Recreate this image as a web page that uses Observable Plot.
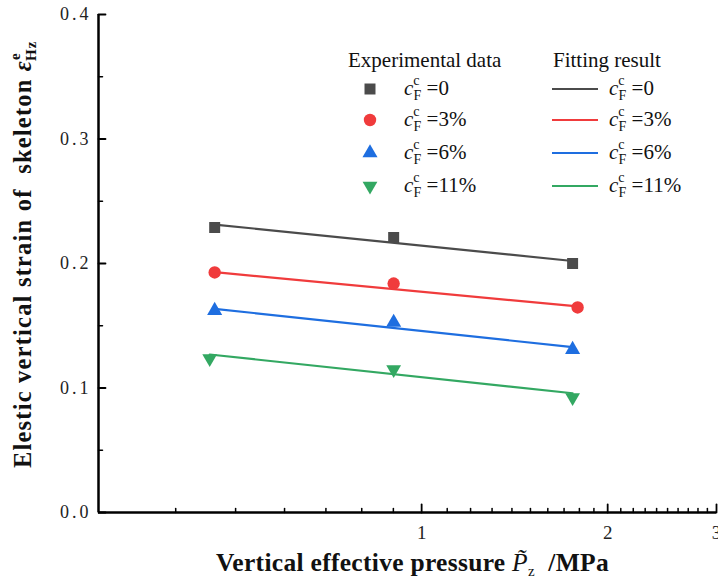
<!DOCTYPE html>
<html><head><meta charset="utf-8">
<script src="https://cdn.jsdelivr.net/npm/d3@7"></script>
<script src="https://cdn.jsdelivr.net/npm/@observablehq/plot@0.6"></script>
<style>body{margin:0;background:#fff} #chart{width:718px;height:578px}</style>
</head><body><div id="chart"></div>
<script>
// ---- data ----
const seriesLabels = ["=0", "=3%", "=6%", "=11%"];
const colors = ["#4b4b4b", "#f03b3c", "#1e6ee0", "#33a862"];
const expX0 = [0.4625, 0.901, 1.755], expY0 = [0.2289, 0.2209, 0.2000];
const expX1 = [0.4625, 0.901, 1.788], expY1 = [0.1928, 0.1839, 0.1647];
const expX2 = [0.4625, 0.901, 1.755], expY2 = [0.1622, 0.1526, 0.1309];
const expX3 = [0.454, 0.901, 1.755],  expY3 = [0.1237, 0.1149, 0.0924];
const fitX0 = [0.4625, 1.755], fitY0 = [0.2313, 0.2020];
const fitX1 = [0.4625, 1.788], fitY1 = [0.1930, 0.1655];
const fitX2 = [0.4625, 1.755], fitY2 = [0.1636, 0.1328];
const fitX3 = [0.454, 1.755],  fitY3 = [0.1269, 0.0958];
const yTicks = [0, 0.1, 0.2, 0.3, 0.4];
const yMinorTicks = [0.05, 0.15, 0.25, 0.35];
const xTicks = [1, 2, 3];
const xMinorTicks = [0.4, 0.5, 0.6, 0.7, 0.8, 0.9, 1.1, 1.2, 1.3, 1.4, 1.5, 1.6, 1.7, 1.8, 1.9,
                     2.1, 2.2, 2.3, 2.4, 2.5, 2.6, 2.7, 2.8, 2.9];

const expX = [expX0, expX1, expX2, expX3], expY = [expY0, expY1, expY2, expY3];
const fitX = [fitX0, fitX1, fitX2, fitX3], fitY = [fitY0, fitY1, fitY2, fitY3];
const pts = i => expX[i].map((x, j) => ({x, y: expY[i][j]}));
const fit = i => fitX[i].map((x, j) => ({x, y: fitY[i][j]}));

const downTriangle = {draw(ctx, size) {
  const y = -Math.sqrt(size / (Math.sqrt(3) * 3));
  ctx.moveTo(0, -y * 2);
  ctx.lineTo(-Math.sqrt(3) * y, y);
  ctx.lineTo(Math.sqrt(3) * y, y);
  ctx.closePath();
}};
const symbols = ["square", "circle", "triangle", downTriangle];
const radii = [6.2, 6.2, 5.6, 5.5];
const tickShape = {draw(ctx, l) { ctx.moveTo(0, 0); ctx.lineTo(0, -l); }};
const serif = "Liberation Serif, Times New Roman, serif";

const marks = [
  Plot.ruleY([0], {stroke: "black", strokeWidth: 2.5}),
  Plot.ruleX([0.3], {stroke: "black", strokeWidth: 2.5}),
  Plot.vector(yTicks, {y: d => d, frameAnchor: "left", length: 7, rotate: 90, anchor: "start", shape: tickShape, stroke: "black", strokeWidth: 1.8}),
  Plot.vector(yMinorTicks, {y: d => d, frameAnchor: "left", length: 4, rotate: 90, anchor: "start", shape: tickShape, stroke: "black", strokeWidth: 1.5}),
  Plot.vector(xTicks, {x: d => d, frameAnchor: "bottom", length: 8, rotate: 0, anchor: "start", shape: tickShape, stroke: "black", strokeWidth: 1.8}),
  Plot.vector(xMinorTicks, {x: d => d, frameAnchor: "bottom", length: 4, rotate: 0, anchor: "start", shape: tickShape, stroke: "black", strokeWidth: 1.5}),
  Plot.axisY(yTicks, {tickSize: 0, tickPadding: 7, tickFormat: d3.format(".1f"), fontSize: 18, fontFamily: serif, label: null, fill: "#222"}),
  Plot.axisX(xTicks, {tickSize: 0, tickPadding: 13, tickFormat: d => String(d), fontSize: 19, fontFamily: serif, label: null, fill: "#222"})
];
for (let i = 0; i < 4; i++) {
  marks.push(Plot.line(fit(i), {x: "x", y: "y", stroke: colors[i], strokeWidth: 2.2}));
}
for (let i = 0; i < 4; i++) {
  marks.push(Plot.dot(pts(i), {x: "x", y: "y", symbol: symbols[i], r: radii[i], fill: colors[i], stroke: "none"}));
}

const svg = Plot.plot({
  width: 718, height: 578,
  marginLeft: 98, marginRight: 2, marginTop: 14, marginBottom: 66,
  x: {type: "log", domain: [0.3, 3], label: null},
  y: {domain: [0, 0.4], label: null},
  style: {background: "white", overflow: "visible"},
  marks
});
document.getElementById("chart").appendChild(svg);

// ---- titles and legend ----
const s = d3.select(svg);
s.selectAll('g[aria-label="y-axis tick label"] text').style("letter-spacing", "3px");

const yt = s.append("text")
  .attr("transform", "translate(31,468) rotate(-90)")
  .attr("text-anchor", "start")
  .attr("font-family", serif).attr("font-size", 24.5).attr("font-weight", "bold").attr("fill", "#111")
  .style("letter-spacing", "1.2px");
yt.append("tspan").text("Elestic vertical strain of\u00a0 skeleton ");
yt.append("tspan").attr("font-style", "italic").text("\u03b5");
yt.append("tspan").attr("font-size", 15).attr("dy", -11).text("e");
yt.append("tspan").attr("font-size", 15).attr("dx", -9).attr("dy", 16).text("Hz");

const xt = s.append("text")
  .attr("x", 216).attr("y", 571)
  .attr("text-anchor", "start")
  .attr("font-family", serif).attr("font-size", 25.5).attr("font-weight", "bold").attr("fill", "#111")
  .style("letter-spacing", "0.3px");
xt.append("tspan").text("Vertical effective pressure ");
xt.append("tspan").attr("font-style", "italic").attr("font-weight", "normal").text("P\u0303");
xt.append("tspan").attr("font-weight", "normal").attr("font-size", 15).attr("dy", 5).text("z");
xt.append("tspan").attr("dy", -5).text("\u00a0 /MPa");

const lg = s.append("g").attr("font-family", serif).attr("fill", "#111").attr("text-anchor", "start");
lg.append("text").attr("x", 348).attr("y", 67).attr("font-size", 21).text("Experimental data");
lg.append("text").attr("x", 553).attr("y", 67).attr("font-size", 21).text("Fitting result");
const rowY = [89, 120, 153, 186];
function cLabel(x, y, suffix) {
  const t = lg.append("text").attr("x", x).attr("y", y + 6).attr("font-size", 21);
  t.append("tspan").attr("font-style", "italic").text("c");
  t.append("tspan").attr("font-size", 14).attr("dy", -10).text("c");
  t.append("tspan").attr("font-size", 14).attr("dx", -6).attr("dy", 15).text("F");
  t.append("tspan").attr("dy", -5).text(" " + suffix);
}
const d3syms = [d3.symbolSquare, d3.symbolCircle, d3.symbolTriangle, downTriangle];
for (let i = 0; i < 4; i++) {
  lg.append("path")
    .attr("transform", `translate(370,${rowY[i]})`)
    .attr("d", d3.symbol(d3syms[i], Math.PI * radii[i] * radii[i])())
    .attr("fill", colors[i]);
  cLabel(404, rowY[i], seriesLabels[i]);
  lg.append("line").attr("x1", 552).attr("x2", 598).attr("y1", rowY[i]).attr("y2", rowY[i])
    .attr("stroke", colors[i]).attr("stroke-width", 2.2);
  cLabel(609, rowY[i], seriesLabels[i]);
}
</script>
</body></html>
